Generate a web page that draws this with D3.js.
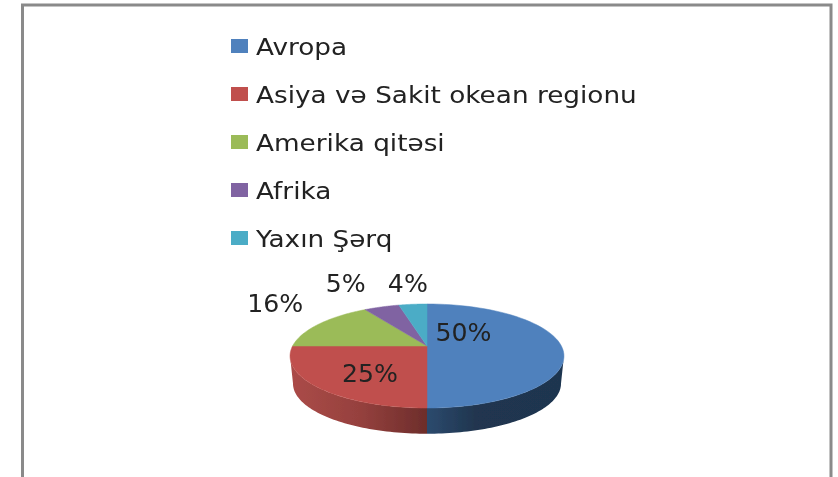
<!DOCTYPE html>
<html>
<head>
<meta charset="utf-8">
<style>
    html, body { margin: 0; padding: 0; background: #fff; overflow: hidden; }
    text { font-family: "DejaVu Sans", sans-serif; fill: #222; }
</style>
</head>
<body>
<script src="https://cdn.jsdelivr.net/npm/d3@7"></script>
<script>

    var categories = ["Avropa", "Asiya və Sakit okean regionu", "Amerika qitəsi", "Afrika", "Yaxın Şərq"];
    var values = [50, 25, 16, 5, 4];
    var colors = ["#4f81bd", "#c0504d", "#9bbb59", "#8064a2", "#4bacc6"];

    // where each percent label sits, relative to the middle of its slice on the rim
    var labelNudge = [[-98, -14], [53, -14], [-44, -21], [-36, -24], [-5, -21]];

    var width = 838;
    var height = 477;

    var svg = d3.select("body").append("svg")
        .attr("width", width)
        .attr("height", height)
        .style("display", "block");

    var defs = svg.append("defs");
    defs.append("filter").attr("id", "soft")
        .append("feGaussianBlur").attr("stdDeviation", 0.55);

    function wallGradient(id, stops) {
        var g = defs.append("linearGradient").attr("id", id);
        stops.forEach(function (s) {
            g.append("stop").attr("offset", s[0]).attr("stop-color", s[1]);
        });
    }
    wallGradient("wallBlue", [[0, "#2c4a6e"], [0.35, "#20364f"], [1, "#1f3550"]]);
    wallGradient("wallRed", [[0, "#ab4b48"], [0.5, "#96413e"], [1, "#6d2d2b"]]);

    var color = d3.scaleOrdinal().domain(categories).range(colors);
    var row = d3.scalePoint().domain(categories).range([46, 238]);

    // frame of the pasted picture, open at the bottom
    svg.append("path")
        .attr("d", "M22.5,477V5H831V477")
        .attr("fill", "none")
        .attr("stroke", "#8a8a8a")
        .attr("stroke-width", 3);

    // tilted disc: the circle goes through a small perspective, so the pie's
    // apex is above the middle of the ellipse
    function project(angle, rim) {
        var u = Math.sin(angle), v = -Math.cos(angle);
        var w = 1 - 0.1923 * v;
        return [rim.x + rim.rx * u / w, rim.y + rim.ry * v / w];
    }
    var topRim = {x: 427, y: 346, rx: 134.4, ry: 50.1};
    var lowRim = {x: 427, y: 374, rx: 131.5, ry: 48.3};

    function arcPoints(a0, a1, rim) {
        return d3.range(0, 61).map(function (i) {
            return project(a0 + (a1 - a0) * i / 60, rim);
        });
    }

    var line = d3.line();
    var pie = d3.pie().sort(null);
    var slices = pie(values);

    var chart = svg.append("g").attr("filter", "url(#soft)");

    // side wall, only the front half shows
    var rad = Math.PI / 180;
    [["wallBlue", 101 * rad, 180 * rad], ["wallRed", 180 * rad, 259 * rad]].forEach(function (w) {
        var pts = arcPoints(w[1], w[2], topRim).concat(arcPoints(w[2], w[1], lowRim));
        chart.append("path")
            .attr("d", line(pts) + "Z")
            .attr("fill", "url(#" + w[0] + ")");
    });

    chart.selectAll("path.slice")
        .data(slices)
        .enter()
        .append("path")
        .attr("class", "slice")
        .attr("fill", function (d, i) { return color(categories[i]); })
        .attr("stroke", function (d, i) { return color(categories[i]); })
        .attr("stroke-width", 0.5)
        .attr("d", function (d) {
            return line([[topRim.x, topRim.y]].concat(arcPoints(d.startAngle, d.endAngle, topRim))) + "Z";
        });

    chart.selectAll("text.pct")
        .data(slices)
        .enter()
        .append("text")
        .attr("class", "pct")
        .attr("text-anchor", "middle")
        .attr("dy", "0.36em")
        .attr("font-size", 24)
        .attr("transform", function (d, i) {
            var p = project((d.startAngle + d.endAngle) / 2, topRim);
            return "translate(" + (p[0] + labelNudge[i][0]) + "," + (p[1] + labelNudge[i][1]) + ") scale(1.05,1)";
        })
        .text(function (d) { return d.value + "%"; });

    // legend
    var legend = chart.selectAll("g.key")
        .data(categories)
        .enter()
        .append("g")
        .attr("class", "key")
        .attr("transform", function (d) { return "translate(231," + row(d) + ")"; });

    legend.append("rect")
        .attr("y", -7)
        .attr("width", 17)
        .attr("height", 14)
        .attr("fill", function (d) { return color(d); });

    // the source text is stretched sideways
    legend.append("text")
        .attr("transform", "translate(25,8.5) scale(1.144,1)")
        .attr("font-size", 23)
        .text(function (d) { return d; });

</script>
</body>
</html>
